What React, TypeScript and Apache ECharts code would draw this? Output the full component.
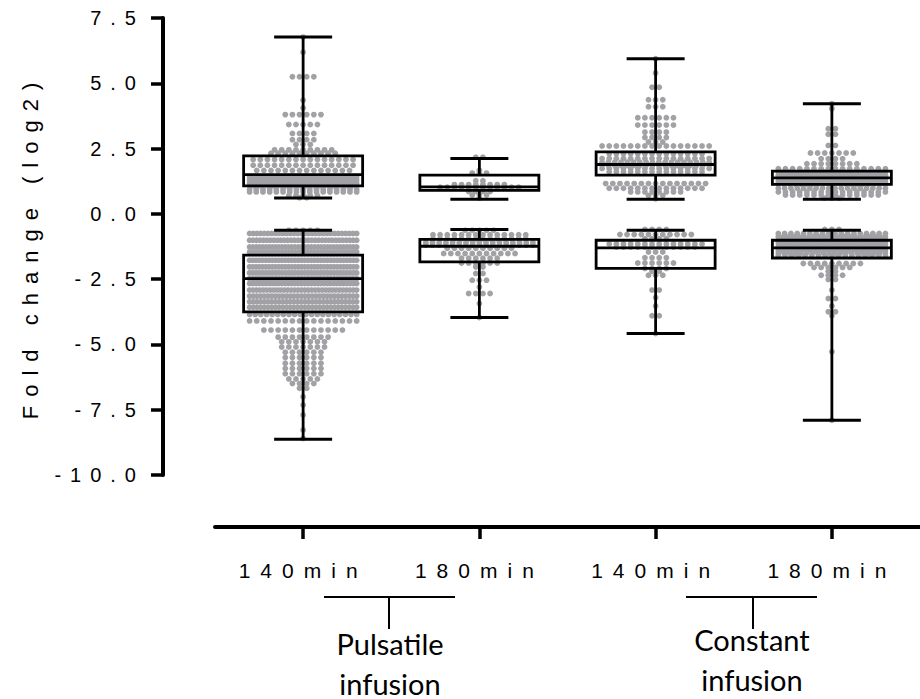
import React, { useEffect, useRef } from "react";
import * as echarts from "echarts";

// ---------- data ----------
const categories = ["140min", "180min", "140min", "180min"];
const groupLabels = ["Pulsatile\ninfusion", "Constant\ninfusion"];

// Box statistics per category: [min, Q1, median, Q3, max]
const upBoxes = [
  [0.61, 1.07, 1.5, 2.22, 6.77],
  [0.56, 0.9, 1.03, 1.48, 2.12],
  [0.56, 1.48, 1.89, 2.37, 5.94],
  [0.56, 1.13, 1.38, 1.64, 4.22],
];
const downBoxes = [
  [-8.63, -3.75, -2.48, -1.58, -0.63],
  [-3.97, -1.84, -1.24, -0.98, -0.6],
  [-4.58, -2.09, -1.3, -1.01, -0.63],
  [-7.9, -1.69, -1.3, -1.01, -0.63],
];

// Individual genes, as rows of the dot plot: [log2 fold change, number of dots in row]
const pulsatile140Up = [
  [6.77, 1], [6.19, 1], [5.25, 4], [4.35, 1], [4.05, 1], [3.8, 6], [3.42, 5], [3.08, 4],
  [2.84, 4], [2.66, 3], [2.45, 9], [2.32, 10], [2.08, 15], [1.86, 15], [1.66, 14],
  [1.42, 24], [1.3, 26], [1.18, 26], [1.08, 24], [0.93, 17], [0.84, 17], [0.7, 5], [0.62, 2],
];
const pulsatile140Down = [
  [-0.63, 5], [-0.75, 30], [-1.01, 32], [-1.27, 34], [-1.46, 34], [-1.78, 34], [-2.03, 34],
  [-2.26, 34], [-2.48, 30], [-2.67, 34], [-2.92, 32], [-3.15, 30], [-3.37, 30], [-3.58, 30],
  [-3.85, 20], [-4.1, 16], [-4.45, 12], [-4.72, 8], [-4.9, 7], [-5.1, 7], [-5.3, 6],
  [-5.5, 6], [-5.72, 6], [-5.92, 6], [-6.12, 6], [-6.32, 5], [-6.5, 4], [-6.68, 2],
  [-7.0, 1], [-7.32, 1], [-7.7, 1], [-8.28, 1], [-8.6, 1],
];
const pulsatile180Up = [
  [2.17, 2], [1.67, 1], [1.56, 3], [1.27, 2], [1.12, 8], [1.02, 12], [0.86, 4], [0.72, 3], [0.6, 1],
];
const pulsatile180Down = [
  [-0.63, 5], [-0.8, 14], [-0.95, 14], [-1.1, 17], [-1.2, 17], [-1.32, 10], [-1.52, 11],
  [-1.7, 6], [-1.88, 6], [-2.03, 2], [-2.28, 2], [-2.54, 3], [-2.8, 1], [-3.05, 4],
  [-3.43, 1], [-3.97, 1],
];
const constant140Up = [
  [5.94, 1], [5.39, 1], [4.85, 2], [4.37, 3], [4.1, 3], [3.68, 6], [3.4, 6], [3.13, 4],
  [2.92, 4], [2.75, 3], [2.6, 16], [2.3, 14], [2.12, 16], [1.98, 18], [1.86, 18],
  [1.74, 16], [1.6, 14], [1.16, 15], [0.98, 14], [0.84, 8], [0.7, 3], [0.58, 1],
];
const constant140Down = [
  [-0.6, 4], [-0.79, 11], [-0.95, 4], [-1.15, 14], [-1.27, 12], [-1.46, 3], [-1.68, 4],
  [-1.88, 6], [-2.09, 4], [-2.2, 2], [-2.35, 3], [-2.92, 2], [-3.2, 1], [-3.53, 1],
  [-3.9, 2], [-4.58, 1],
];
const constant180Up = [
  [4.22, 1], [4.03, 1], [3.26, 2], [3.05, 2], [2.62, 2], [2.33, 7], [2.11, 4], [1.92, 8],
  [1.73, 16], [1.6, 22], [1.48, 24], [1.36, 24], [1.24, 22], [1.14, 20], [0.98, 18],
  [0.84, 16], [0.72, 14], [0.6, 3],
];
const constant180Down = [
  [-0.6, 3], [-0.75, 18], [-0.88, 22], [-1.0, 24], [-1.12, 26], [-1.25, 26], [-1.38, 24],
  [-1.5, 20], [-1.6, 17], [-1.9, 9], [-2.05, 6], [-2.2, 2], [-2.35, 4], [-2.51, 2],
  [-2.92, 1], [-3.24, 2], [-3.53, 1], [-3.75, 2], [-3.9, 1], [-5.28, 1], [-7.9, 1],
];
const dotRows = [
  [pulsatile140Up, pulsatile140Down],
  [pulsatile180Up, pulsatile180Down],
  [constant140Up, constant140Down],
  [constant180Up, constant180Down],
];

// ---------- layout constants ----------
const GRID_LEFT = 215;
const GRID_RIGHT = -6;
const PX_PER_CATEGORY = (920 - GRID_LEFT - GRID_RIGHT) / 4;
const DOT_STEP_PX = 7.2;
const ROW_HALF_WIDTH_PX = 54;
const BOX_HALF_PX = 59.5;
const CAP_HALF_PX = 29;

function swarmPoints(rows: number[][], cat: number): number[][] {
  const out: number[][] = [];
  rows.forEach(([v, n]) => {
    const step = n > 1 ? Math.min(DOT_STEP_PX, (2 * ROW_HALF_WIDTH_PX) / (n - 1)) : 0;
    for (let i = 0; i < n; i++) {
      const off = (i - (n - 1) / 2) * step;
      out.push([cat + off / PX_PER_CATEGORY, v]);
    }
  });
  return out;
}

const AXIS_FONT = "Liberation Sans";
const GROUP_FONT = "Lato";

export default function App() {
  const ref = useRef<HTMLDivElement>(null);

  useEffect(() => {
    if (!ref.current) return;
    const chart = echarts.init(ref.current, undefined, { renderer: "svg" });

    const points: number[][] = [];
    dotRows.forEach((pair, ci) => {
      pair.forEach((rows) => swarmPoints(rows, ci).forEach((p) => points.push(p)));
    });

    const boxData: number[][] = [];
    upBoxes.forEach((b, i) => boxData.push([i, ...b]));
    downBoxes.forEach((b, i) => boxData.push([i, ...b]));

    const lineStyle = { stroke: "#000", lineWidth: 2.8, fill: null as any };

    chart.setOption({
      animation: false,
      backgroundColor: "#fff",
      grid: { left: GRID_LEFT, right: GRID_RIGHT, top: 18, bottom: 224, containLabel: false },
      xAxis: [
        {
          type: "category",
          data: categories,
          position: "bottom",
          offset: 52,
          boundaryGap: true,
          axisLine: { show: true, onZero: false, lineStyle: { color: "#000", width: 4 } },
          axisTick: { show: true, alignWithLabel: true, length: 12, lineStyle: { color: "#000", width: 3.5 } },
          axisLabel: { interval: 0, fontSize: 21, color: "#000", fontFamily: AXIS_FONT, margin: 33 },
          splitLine: { show: false },
        },
        { type: "value", min: -0.5, max: 3.5, show: false, axisLine: { onZero: false } },
      ],
      yAxis: {
        type: "value",
        min: -10,
        max: 7.5,
        interval: 2.5,
        offset: 52,
        axisLine: { show: true, onZero: false, lineStyle: { color: "#000", width: 4 } },
        axisTick: { show: true, length: 12, lineStyle: { color: "#000", width: 3.5 } },
        axisLabel: {
          formatter: (v: number) => v.toFixed(1),
          fontSize: 20,
          color: "#000",
          fontFamily: AXIS_FONT,
          margin: 18,
        },
        splitLine: { show: false },
        name: "Fold change (log2)",
        nameLocation: "middle",
        nameGap: 122,
        nameTextStyle: { fontSize: 22, color: "#000", fontFamily: AXIS_FONT },
      },
      series: [
        {
          type: "scatter",
          xAxisIndex: 1,
          data: points,
          symbol: "circle",
          symbolSize: 5.8,
          itemStyle: { color: "#a2a2a6", opacity: 1 },
          silent: true,
          z: 1,
          clip: false,
        },
        {
          type: "custom",
          xAxisIndex: 1,
          data: boxData,
          encode: { x: 0, y: [1, 2, 3, 4, 5] },
          z: 5,
          renderItem: (params: any, api: any) => {
            const x = api.value(0);
            const lo = api.coord([x, api.value(1)]);
            const q1 = api.coord([x, api.value(2)]);
            const md = api.coord([x, api.value(3)]);
            const q3 = api.coord([x, api.value(4)]);
            const hi = api.coord([x, api.value(5)]);
            const cx = lo[0];
            return {
              type: "group",
              children: [
                { type: "line", shape: { x1: cx, y1: hi[1], x2: cx, y2: q3[1] }, style: lineStyle },
                { type: "line", shape: { x1: cx, y1: q1[1], x2: cx, y2: lo[1] }, style: lineStyle },
                { type: "line", shape: { x1: cx - CAP_HALF_PX, y1: hi[1], x2: cx + CAP_HALF_PX, y2: hi[1] }, style: { ...lineStyle, lineWidth: 3 } },
                { type: "line", shape: { x1: cx - CAP_HALF_PX, y1: lo[1], x2: cx + CAP_HALF_PX, y2: lo[1] }, style: { ...lineStyle, lineWidth: 3 } },
                {
                  type: "rect",
                  shape: { x: cx - BOX_HALF_PX, y: q3[1], width: 2 * BOX_HALF_PX, height: q1[1] - q3[1] },
                  style: { stroke: "#000", lineWidth: 2.8, fill: "none" },
                },
                { type: "line", shape: { x1: cx - BOX_HALF_PX, y1: md[1], x2: cx + BOX_HALF_PX, y2: md[1] }, style: lineStyle },
              ],
            };
          },
        },
      ],
      graphic: [
        { type: "line", shape: { x1: 324, y1: 597, x2: 455, y2: 597 }, style: { stroke: "#000", lineWidth: 2 } },
        { type: "line", shape: { x1: 389, y1: 597, x2: 389, y2: 629 }, style: { stroke: "#000", lineWidth: 2 } },
        { type: "line", shape: { x1: 686, y1: 597, x2: 817, y2: 597 }, style: { stroke: "#000", lineWidth: 2 } },
        { type: "line", shape: { x1: 753, y1: 597, x2: 753, y2: 629 }, style: { stroke: "#000", lineWidth: 2 } },
        {
          type: "text",
          x: 390,
          y: 663,
          style: {
            text: groupLabels[0],
            fontSize: 29,
            fontFamily: GROUP_FONT,
            fill: "#000",
            align: "center",
            verticalAlign: "middle",
            lineHeight: 40,
          },
        },
        {
          type: "text",
          x: 752,
          y: 659,
          style: {
            text: groupLabels[1],
            fontSize: 29,
            fontFamily: GROUP_FONT,
            fill: "#000",
            align: "center",
            verticalAlign: "middle",
            lineHeight: 40,
          },
        },
      ],
    });

    return () => chart.dispose();
  }, []);

  return (
    <>
      <style>{`#fc-chart text[style*="Liberation"], #fc-chart text[font-family*="Liberation"] { letter-spacing: 9px; }
#fc-chart text[style*="21px"][style*="Liberation"] { letter-spacing: 10px; }`}</style>
      <div
        id="fc-chart"
        ref={ref}
        style={{ position: "fixed", left: 0, top: 0, width: 920, height: 699, background: "#fff" }}
      />
    </>
  );
}
